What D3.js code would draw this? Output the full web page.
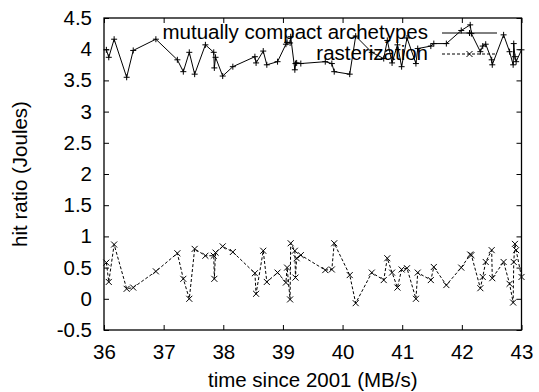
<!DOCTYPE html>
<html><head><meta charset="utf-8">
<script src="https://cdn.jsdelivr.net/npm/d3@7"></script>
<style>
body{margin:0;background:#fff;}
text{font-family:"Liberation Sans",Arial,Helvetica,sans-serif;font-size:20.5px;fill:#000;}
</style></head>
<body><svg id="c" width="539" height="392"></svg>
<script>
const xValues = [36.04,36.08,36.17,36.38,36.49,36.87,37.23,37.33,37.43,37.52,37.70,37.84,37.85,37.87,37.99,38.16,38.53,38.55,38.67,38.73,38.91,39.05,39.07,39.12,39.13,39.20,39.21,39.23,39.30,39.71,39.82,39.86,40.12,40.22,40.49,40.69,40.75,40.83,40.92,40.99,41.08,41.23,41.26,41.48,41.53,41.74,41.99,42.14,42.16,42.31,42.35,42.40,42.50,42.51,42.70,42.80,42.86,42.87,42.89,42.91,43.00];
const compactValues = [3.99,3.87,4.16,3.55,3.98,4.16,3.83,3.64,3.95,3.60,4.07,3.95,3.70,3.87,3.57,3.72,3.88,3.78,3.97,3.75,3.80,4.08,4.11,4.10,4.20,3.67,3.77,3.78,3.77,3.80,3.77,3.64,3.60,4.21,3.95,3.85,4.14,3.78,4.07,3.72,4.18,3.77,4.01,4.05,4.09,4.09,4.30,4.39,4.25,3.96,4.05,4.08,3.83,3.75,4.23,3.96,3.75,4.09,3.88,3.80,3.99];
const rasterValues = [0.58,0.27,0.87,0.16,0.18,0.44,0.73,0.32,0.00,0.80,0.69,0.69,0.32,0.74,0.84,0.75,0.41,0.08,0.77,0.27,0.42,0.26,0.50,-0.01,0.89,0.77,0.34,0.65,0.70,0.46,0.47,0.89,0.38,-0.07,0.42,0.30,0.65,0.42,0.18,0.47,0.49,0.00,0.42,0.30,0.51,0.22,0.50,0.71,0.70,0.17,0.35,0.59,0.78,0.33,0.59,0.24,-0.06,0.59,0.88,0.78,0.35];
const xTicks = [36,37,38,39,40,41,42,43];
const yTicks = [-0.5,0,0.5,1,1.5,2,2.5,3,3.5,4,4.5];
const seriesNames = ["mutually compact archetypes","rasterization"];
const xLabel = "time since 2001 (MB/s)";
const yLabel = "hit ratio (Joules)";

const svg = d3.select("#c");
const L=104, R=521.5, T=18, B=330;
const x = d3.scaleLinear().domain([36,43]).range([L,R]);
const y = d3.scaleLinear().domain([-0.5,4.5]).range([B,T]);

function styleAxis(g){
  g.select(".domain").remove();
  g.selectAll("line").attr("stroke","#000").attr("stroke-width",1);
  g.selectAll("text").style("font-size","20.5px").attr("fill","#000");
}
svg.append("g").attr("transform",`translate(0,${B})`)
  .call(d3.axisBottom(x).tickValues(xTicks).tickFormat(d3.format("d")).tickSizeInner(-5).tickSizeOuter(0).tickPadding(14)).call(styleAxis);
svg.append("g").attr("transform",`translate(0,${T})`)
  .call(d3.axisTop(x).tickValues(xTicks).tickFormat("").tickSizeInner(-5).tickSizeOuter(0)).call(styleAxis);
svg.append("g").attr("transform",`translate(${L},0)`)
  .call(d3.axisLeft(y).tickValues(yTicks).tickFormat(d=>String(d)).tickSizeInner(-5).tickSizeOuter(0).tickPadding(12)).call(styleAxis);
svg.append("g").attr("transform",`translate(${R},0)`)
  .call(d3.axisRight(y).tickValues(yTicks).tickFormat("").tickSizeInner(-5).tickSizeOuter(0)).call(styleAxis);

svg.append("rect").attr("x",L).attr("y",T).attr("width",R-L).attr("height",B-T)
  .attr("fill","none").attr("stroke","#000").attr("stroke-width",1.3);

svg.append("text").attr("x",(L+R)/2).attr("y",387).attr("text-anchor","middle").text(xLabel);
svg.append("text").attr("transform",`translate(27,${(T+B)/2}) rotate(-90)`).attr("text-anchor","middle").text(yLabel);

const line = d3.line();
const ptsA = xValues.map((v,i)=>[x(v),y(compactValues[i])]);
const ptsB = xValues.map((v,i)=>[x(v),y(rasterValues[i])]);

svg.append("path").attr("d",line(ptsA)).attr("fill","none").attr("stroke","#000").attr("stroke-width",1);
svg.append("path").attr("d",line(ptsB)).attr("fill","none").attr("stroke","#000").attr("stroke-width",1).attr("stroke-dasharray","3,2");

const s=3;
function plus(g,px,py){
  g.append("path").attr("d",`M${px-s},${py}H${px+s}M${px},${py-s}V${py+s}`).attr("stroke","#000").attr("stroke-width",1).attr("fill","none");
}
function cross(g,px,py){
  g.append("path").attr("d",`M${px-s},${py-s}L${px+s},${py+s}M${px-s},${py+s}L${px+s},${py-s}`).attr("stroke","#000").attr("stroke-width",1).attr("fill","none");
}
const gA = svg.append("g"), gB = svg.append("g");
ptsA.forEach(p=>plus(gA,p[0],p[1]));
ptsB.forEach(p=>cross(gB,p[0],p[1]));

// legend
const lg = svg.append("g");
lg.append("text").attr("x",428).attr("y",39).attr("text-anchor","end").text(seriesNames[0]);
lg.append("text").attr("x",428).attr("y",60).attr("text-anchor","end").text(seriesNames[1]);
lg.append("line").attr("x1",442).attr("x2",497).attr("y1",33).attr("y2",33).attr("stroke","#000").attr("stroke-width",1);
plus(lg,469.5,33);
lg.append("line").attr("x1",442).attr("x2",497).attr("y1",54).attr("y2",54).attr("stroke","#000").attr("stroke-width",1).attr("stroke-dasharray","3,2");
cross(lg,469.5,54);
</script></body></html>
